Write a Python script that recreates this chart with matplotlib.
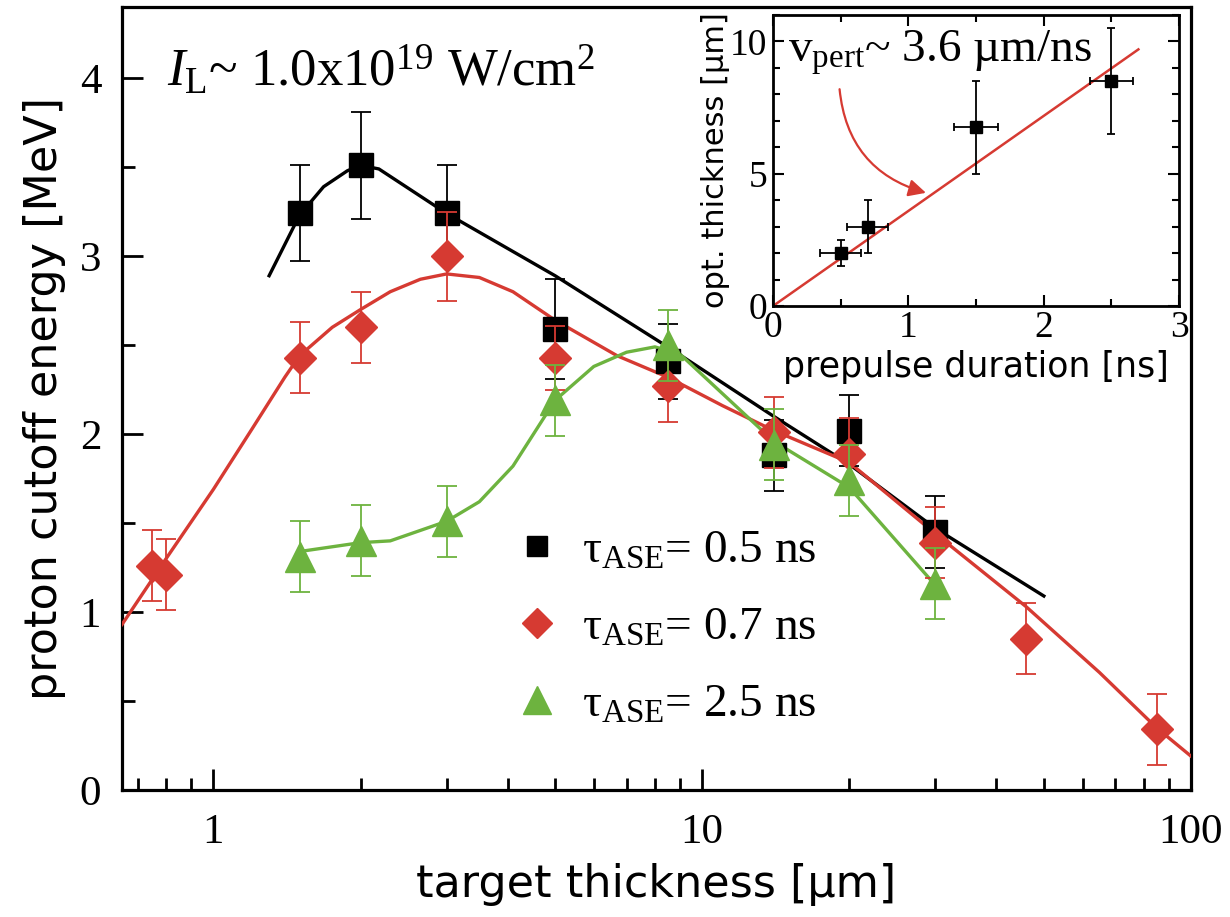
import numpy as np
import matplotlib
matplotlib.use("Agg")
import matplotlib.pyplot as plt
from matplotlib.lines import Line2D
from matplotlib.patches import FancyArrowPatch
from matplotlib.ticker import FixedLocator, NullFormatter, MultipleLocator

plt.rcParams['font.family'] = ['Liberation Serif', 'DejaVu Serif']
plt.rcParams['mathtext.fontset'] = 'custom'
plt.rcParams['mathtext.rm'] = 'Liberation Serif'
plt.rcParams['mathtext.it'] = 'Liberation Serif:italic'

RED = '#d63a32'
GREEN = '#6db33f'
SANS = 'DejaVu Sans'

# --- main panel: measured points (target thickness in um, cutoff in MeV)
x_05 = [1.5, 2.0, 3.0, 5.0, 8.5, 14, 20, 30]
y_05 = [3.24, 3.51, 3.24, 2.59, 2.41, 1.88, 2.02, 1.45]
e_05 = [0.27, 0.30, 0.27, 0.28, 0.21, 0.20, 0.20, 0.20]

x_07 = [0.75, 0.80, 1.5, 2.0, 3.0, 5.0, 8.5, 14, 20, 30, 46, 85]
y_07 = [1.26, 1.21, 2.43, 2.60, 3.00, 2.43, 2.27, 2.01, 1.89, 1.39, 0.85, 0.34]
e_07 = [0.20, 0.20, 0.20, 0.20, 0.25, 0.18, 0.20, 0.20, 0.20, 0.20, 0.20, 0.20]

x_25 = [1.5, 2.0, 3.0, 5.0, 8.5, 14, 20, 30]
y_25 = [1.31, 1.40, 1.51, 2.19, 2.50, 1.94, 1.74, 1.16]
e_25 = [0.20, 0.20, 0.20, 0.20, 0.20, 0.20, 0.20, 0.20]

# guide-to-the-eye curves
cx_05 = [1.3, 1.5, 1.68, 1.88, 2.0, 2.18, 3.0, 5.0, 8.5, 14, 20, 30, 50]
cy_05 = [2.89, 3.23, 3.39, 3.48, 3.51, 3.49, 3.24, 2.89, 2.49, 2.10, 1.83, 1.47, 1.09]

cx_07 = [0.65, 0.8, 1.0, 1.2, 1.4, 1.5, 1.75, 2.0, 2.3, 2.65, 3.0, 3.5, 4.1, 5.0,
         6.7, 8.5, 11, 14, 20, 30, 46, 65, 85, 100]
cy_07 = [0.93, 1.30, 1.69, 2.03, 2.32, 2.44, 2.60, 2.70, 2.80, 2.87, 2.90, 2.88, 2.80,
         2.64, 2.44, 2.32, 2.16, 2.02, 1.84, 1.44, 1.03, 0.66, 0.35, 0.19]

cx_25 = [1.5, 2.0, 2.3, 3.0, 3.5, 4.1, 5.0, 6.0, 7.0, 8.0, 9.0, 14, 20, 30]
cy_25 = [1.34, 1.39, 1.40, 1.51, 1.62, 1.82, 2.19, 2.38, 2.46, 2.49, 2.45, 1.96, 1.70, 1.15]

# --- inset: optimum thickness vs prepulse duration
ins_x = [0.5, 0.7, 1.5, 2.5]
ins_y = [2.0, 3.0, 6.75, 8.5]
ins_xerr = [0.15, 0.15, 0.16, 0.16]
ins_yerr = [0.5, 1.0, 1.75, 2.0]
fit_x = [0.0, 2.7]
fit_y = [0.0, 9.7]

labels = ['τ$_{\\mathrm{ASE}}$= 0.5 ns', 'τ$_{\\mathrm{ASE}}$= 0.7 ns',
          'τ$_{\\mathrm{ASE}}$= 2.5 ns']

W, H = 1230, 917
fig = plt.figure(figsize=(W / 100, H / 100), dpi=100)
ax = fig.add_axes([122 / W, 1 - 790 / H, (1191 - 122) / W, (790 - 7) / H])

ax.set_xscale('log')
ax.set_xlim(0.65, 100)
ax.set_ylim(0, 4.4)

# black series
ax.plot(cx_05, cy_05, color='black', lw=2.4, zorder=3)
ax.errorbar(x_05, y_05, yerr=e_05, fmt='none', ecolor='black', elinewidth=1.3,
            capsize=7, capthick=1.3, zorder=4)
ax.plot(x_05, y_05, 's', color='black', ms=17, zorder=5)
# red series
ax.plot(cx_07, cy_07, color=RED, lw=2.4, zorder=3)
ax.errorbar(x_07, y_07, yerr=e_07, fmt='none', ecolor=RED, elinewidth=1.3,
            capsize=7, capthick=1.3, zorder=6)
ax.plot(x_07, y_07, 'D', color=RED, ms=16, zorder=7)
# green series
ax.plot(cx_25, cy_25, color=GREEN, lw=2.4, zorder=3)
ax.errorbar(x_25, y_25, yerr=e_25, fmt='none', ecolor=GREEN, elinewidth=1.3,
            capsize=7, capthick=1.3, zorder=8)
ax.plot(x_25, y_25, '^', color=GREEN, ms=21, zorder=9)

ax.xaxis.set_major_locator(FixedLocator([1, 10, 100]))
ax.set_xticklabels(['1', '10', '100'])
minors = [m * d for d in (0.1, 1, 10) for m in range(2, 10)]
ax.xaxis.set_minor_locator(FixedLocator([v for v in minors if 0.65 < v < 100]))
ax.xaxis.set_minor_formatter(NullFormatter())
ax.yaxis.set_major_locator(MultipleLocator(1))
ax.yaxis.set_minor_locator(MultipleLocator(0.5))
ax.tick_params(which='both', direction='in', top=False, right=False, width=2)
ax.tick_params(which='major', length=15, labelsize=31, pad=15)
ax.tick_params(axis='x', which='major', pad=17)
ax.tick_params(which='minor', length=9)
for sp in ax.spines.values():
    sp.set_linewidth(2.3)

ax.set_xlabel('target thickness [µm]', family=SANS, fontsize=32, labelpad=8)
ax.set_ylabel('proton cutoff energy [MeV]', family=SANS, fontsize=32, labelpad=10)

ax.text(0.042, 0.899, r'$I_{\mathrm{L}}$~ 1.0x10$^{19}$ W/cm$^{2}$', transform=ax.transAxes,
        fontsize=38, va='baseline', ha='left')

handles = [Line2D([], [], ls='none', marker='s', color='black', ms=14),
           Line2D([], [], ls='none', marker='D', color=RED, ms=15),
           Line2D([], [], ls='none', marker='^', color=GREEN, ms=20)]
ax.legend(handles, labels, loc='upper left', bbox_to_anchor=(0.366, 0.333), frameon=False,
          fontsize=34, handlelength=1.0, handletextpad=0.45, labelspacing=0.72,
          borderpad=0, borderaxespad=0)

# inset
ins = fig.add_axes([773 / W, 1 - 306 / H, (1179 - 773) / W, (306 - 15) / H])
ins.set_xlim(0, 3)
ins.set_ylim(0, 11)
ins.plot(fit_x, fit_y, color=RED, lw=1.8, zorder=2)
ins.errorbar(ins_x, ins_y, xerr=ins_xerr, yerr=ins_yerr, fmt='s', color='black', ms=9,
             elinewidth=1.3, capsize=3, capthick=1.3, zorder=3)
ins.xaxis.set_major_locator(MultipleLocator(1))
ins.xaxis.set_minor_locator(MultipleLocator(0.5))
ins.yaxis.set_major_locator(MultipleLocator(5))
ins.yaxis.set_minor_locator(MultipleLocator(1))
ins.tick_params(which='both', direction='in', top=True, right=True, width=1.5)
ins.tick_params(which='major', length=8, labelsize=27, pad=3)
ins.tick_params(axis='y', which='major', pad=4)
ins.tick_params(which='minor', length=5)
for sp in ins.spines.values():
    sp.set_linewidth(2.0)
ins.set_xlabel('prepulse duration [ns]', family=SANS, fontsize=25, labelpad=4)
ins.set_ylabel('opt. thickness [µm]', family=SANS, fontsize=22, labelpad=0)
ins.text(0.037, 0.838, r'v$_{\mathrm{pert}}$~ 3.6 µm/ns', transform=ins.transAxes,
         fontsize=34, va='baseline', ha='left')
arrow = FancyArrowPatch((0.49, 8.3), (1.15, 4.25), connectionstyle='arc3,rad=0.35',
                        arrowstyle='-|>', mutation_scale=26, color=RED, lw=1.6)
ins.add_patch(arrow)

fig.savefig('out.png', dpi=100)
